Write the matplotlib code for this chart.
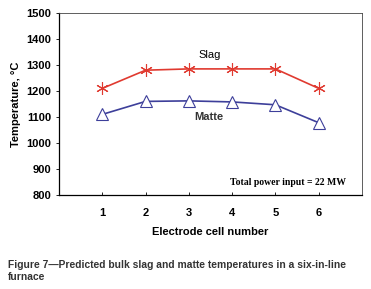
import matplotlib.pyplot as plt

plt.rcParams["font.family"] = ["Liberation Sans", "DejaVu Sans"]

cells = [1, 2, 3, 4, 5, 6]
slag = [1210, 1280, 1285, 1285, 1285, 1210]
matte = [1110, 1160, 1162, 1158, 1147, 1078]
y_ticks = [800, 900, 1000, 1100, 1200, 1300, 1400, 1500]

fig = plt.figure(figsize=(3.71, 2.89), dpi=100)
ax = fig.add_axes([59 / 371, 1 - 195 / 289, 303 / 371, 182 / 289])

ax.plot(cells, slag, color="#e03a30", lw=1.2, marker=(6, 2, 0), ms=9,
        mec="#e03a30", mew=0.8)
ax.plot(cells, matte, color="#3d3f9a", lw=1.2, marker="^", ms=8,
        mfc="white", mec="#3d3f9a", mew=0.8)

ax.text(3.48, 1338, "Slag", ha="center", va="center", fontsize=8)
ax.text(3.45, 1100, "Matte", ha="center", va="center", fontsize=8,
        fontweight="bold", color="#333333")
ax.text(6.62, 848, "Total power input = 22 MW", ha="right", va="center",
        fontsize=7, fontweight="bold", family="Liberation Serif")

ax.set_xlim(0, 7)
ax.set_ylim(800, 1500)
ax.set_xticks(cells)
ax.set_yticks(y_ticks)
ax.tick_params(labelsize=8, length=2, width=0.6)
ax.tick_params(axis="x", direction="in", pad=9)
for lab in ax.get_xticklabels() + ax.get_yticklabels():
    lab.set_fontweight("bold")
ax.set_xlabel("Electrode cell number", fontsize=8, fontweight="bold", labelpad=7)
ax.set_ylabel("Temperature, °C", fontsize=8, fontweight="bold", labelpad=4)

for side in ["left", "bottom"]:
    ax.spines[side].set_linewidth(0.9)
for side in ["top", "right"]:
    ax.spines[side].set_linewidth(0.6)
    ax.spines[side].set_color("#444444")

fig.text(8 / 371, 1 - 271 / 289,
         "Figure 7\u2014Predicted bulk slag and matte temperatures in a six-in-line\nfurnace",
         ha="left", va="center", fontsize=7.4, fontweight="bold",
         color="#333333", linespacing=1.25)

fig.savefig("out.png", dpi=100)
